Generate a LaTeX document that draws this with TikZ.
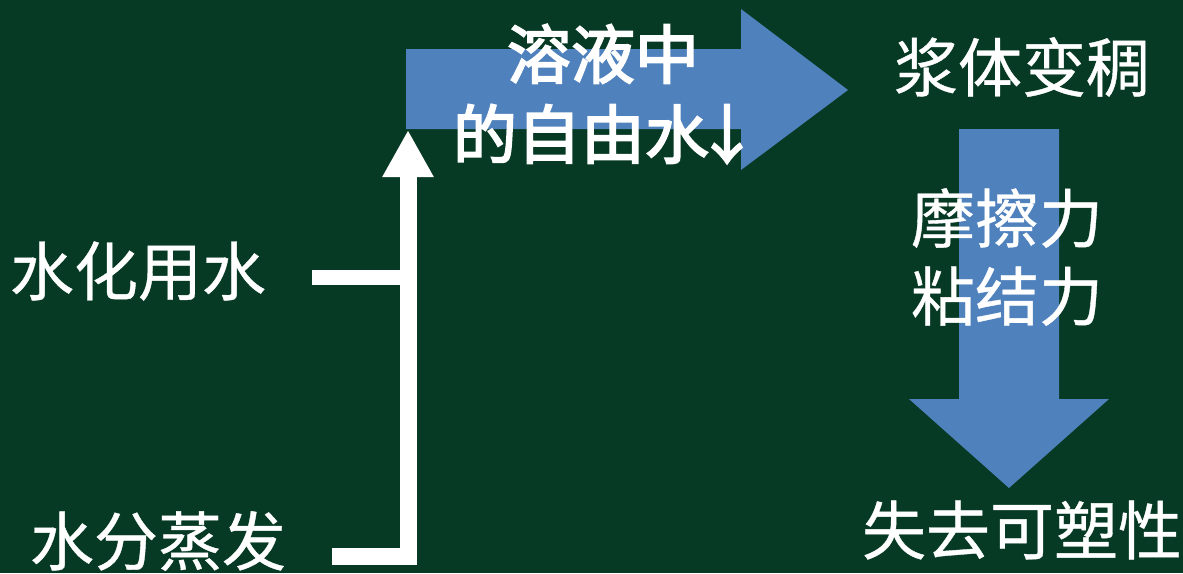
\documentclass[tikz,border=0pt]{standalone}
\usepackage{fontspec}
\newfontfamily\cjk[FakeBold=0.6]{Noto Sans CJK SC}
\newfontfamily\cjkbold[FakeBold=2.8]{Noto Sans CJK SC}
\usetikzlibrary{arrows.meta}
\definecolor{bg}{RGB}{6,58,36}
\definecolor{arrowblue}{RGB}{79,129,189}
\tikzset{
  lbl/.style={text=white, inner sep=0pt, align=center, font=\cjk\fontsize{64}{78}\selectfont},
  boldlbl/.style={lbl, font=\cjkbold\fontsize{64}{80}\selectfont},
  bigarrow/.style={fill=arrowblue, draw=none},
  wline/.style={draw=white, line width=15pt, line cap=butt},
  mainline/.style={draw=white, line width=17pt, line join=miter, -{Triangle[length=47pt 0 0, width=48pt 0 0]}}
}
\begin{document}
\begin{tikzpicture}[x=1pt,y=-1pt]
\fill[bg] (0,0) rectangle (1183,573);
\useasboundingbox (0,0) rectangle (1183,573);
% blue block arrows
\fill[bigarrow] (406,49) -- (741,49) -- (741,9) -- (848,90) -- (741,170) -- (741,129) -- (406,129) -- cycle;
\fill[bigarrow] (959,129) -- (1059,129) -- (1059,399) -- (1109,399) -- (1009,488) -- (909,399) -- (959,399) -- cycle;
% labels
\node[lbl] (hyd) at (138,271) {水化用水};
\node[lbl] (evap) at (158,541) {水分蒸发};
\node[boldlbl] (free) at (603,94) {溶液中\\\hspace*{6pt}的自由水\kern-14pt↓};
\node[lbl] (thick) at (1022,67) {浆体变稠};
\node[lbl] (force) at (1007,257) {摩擦力\\粘结力};
\node[lbl] (lose) at (1022,530) {失去可塑性};
% white connectors
\coordinate (hstart) at (312,277);
\coordinate (join) at (408,277);
\coordinate (estart) at (332,556);
\coordinate (corner) at (408,556);
\coordinate (tail) at (408,130);
\draw[wline] (hstart) -- (join);
\draw[mainline] (estart) -- (corner) -- (tail);
\end{tikzpicture}
\end{document}
